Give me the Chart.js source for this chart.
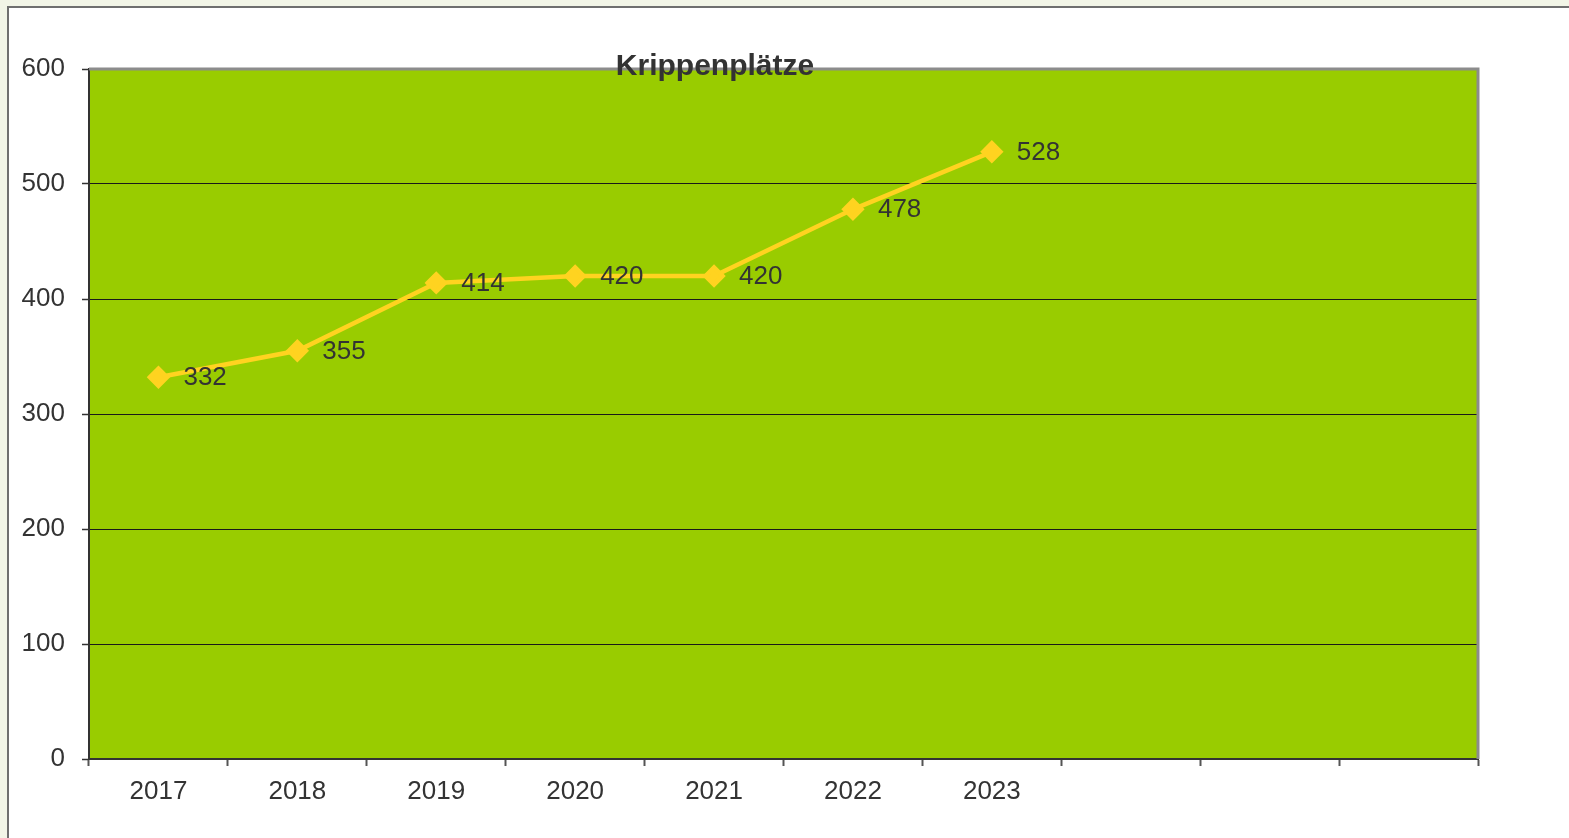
<!DOCTYPE html>
<html>
<head>
<meta charset="utf-8">
<script src="https://cdn.jsdelivr.net/npm/chart.js@4"></script>
<style>
  html, body { margin: 0; padding: 0; }
  body { width: 1569px; height: 838px; background: #f2f5e7; position: relative; overflow: hidden; }
  #box { position: absolute; left: 7px; top: 6px; right: 0; bottom: 0; background: #fff;
         border-left: 2px solid #6f6f6f; border-top: 2px solid #6f6f6f; }
  #wrap { position: absolute; left: 0; top: 0; width: 1569px; height: 838px; }
</style>
</head>
<body>
<div id="box"></div>
<div id="wrap"><canvas id="chart" width="1569" height="838"></canvas></div>
<script>
// categories: three trailing empty slots like the original sheet
const years = ['2017', '2018', '2019', '2020', '2021', '2022', '2023', '', '', ''];
const places = [332, 355, 414, 420, 420, 478, 528, null, null, null];
const yTicks = [0, 100, 200, 300, 400, 500, 600];

const chartTitle = 'Krippenplätze';
const plotGreen = '#99cc00';
const lineYellow = '#ffd320';
const fontFamily = '"Liberation Sans", Arial, sans-serif';

const plotBackground = {
    id: 'plotBackground',
    beforeDraw(chart) {
        const { ctx, chartArea: a } = chart;
        ctx.save();
        ctx.fillStyle = plotGreen;
        ctx.fillRect(a.left, a.top, a.right - a.left, a.bottom - a.top);
        ctx.restore();
    },
    afterDatasetsDraw(chart) {
        const { ctx, chartArea: a } = chart;
        ctx.save();
        // grey frame on top and right
        ctx.strokeStyle = '#8c8c8c';
        ctx.lineWidth = 3;
        ctx.beginPath();
        ctx.moveTo(a.left, a.top);
        ctx.lineTo(a.right, a.top);
        ctx.lineTo(a.right, a.bottom);
        ctx.stroke();

        // value labels
        ctx.fillStyle = '#333333';
        ctx.font = '26px ' + fontFamily;
        ctx.textAlign = 'left';
        ctx.textBaseline = 'middle';
        chart.getDatasetMeta(0).data.forEach((pt, i) => {
            if (places[i] == null) return;
            ctx.fillText(String(places[i]), pt.x + 25, pt.y + 1);
        });

        // title
        ctx.font = 'bold 30px ' + fontFamily;
        ctx.textAlign = 'center';
        ctx.textBaseline = 'alphabetic';
        ctx.fillText(chartTitle, 715, 75);
        ctx.restore();
    }
};

new Chart(document.getElementById('chart'), {
    type: 'line',
    data: {
        labels: years,
        datasets: [{
            data: places,
            borderColor: lineYellow,
            backgroundColor: lineYellow,
            borderWidth: 4.5,
            pointStyle: 'rectRot',
            pointRadius: 8.5,
            pointHoverRadius: 8.5,
            tension: 0,
            spanGaps: false
        }]
    },
    options: {
        responsive: false,
        animation: false,
        layout: { padding: { left: 0, top: 69, right: 91, bottom: 0 } },
        plugins: {
            legend: { display: false },
            tooltip: { enabled: false },
            title: { display: false }
        },
        scales: {
            x: {
                offset: true,
                grid: {
                    offset: true,
                    drawOnChartArea: false,
                    tickLength: 7,
                    tickColor: '#555',
                    tickWidth: 2
                },
                border: { color: '#333', width: 2 },
                ticks: {
                    color: '#333',
                    font: { family: fontFamily, size: 26 },
                    padding: 10,
                    maxRotation: 0,
                    autoSkip: false
                },
                afterFit(scale) { scale.height = 79; }
            },
            y: {
                min: 0,
                max: 600,
                afterBuildTicks(scale) { scale.ticks = yTicks.map(v => ({ value: v })); },
                grid: {
                    color: '#1a1a1a',
                    lineWidth: 1,
                    tickLength: 7,
                    tickColor: '#333',
                    tickWidth: 1.5
                },
                border: { color: '#333', width: 2 },
                ticks: {
                    color: '#333',
                    font: { family: fontFamily, size: 26 },
                    padding: 17
                },
                afterFit(scale) { scale.width = 89; }
            }
        }
    },
    plugins: [plotBackground]
});
</script>
</body>
</html>
